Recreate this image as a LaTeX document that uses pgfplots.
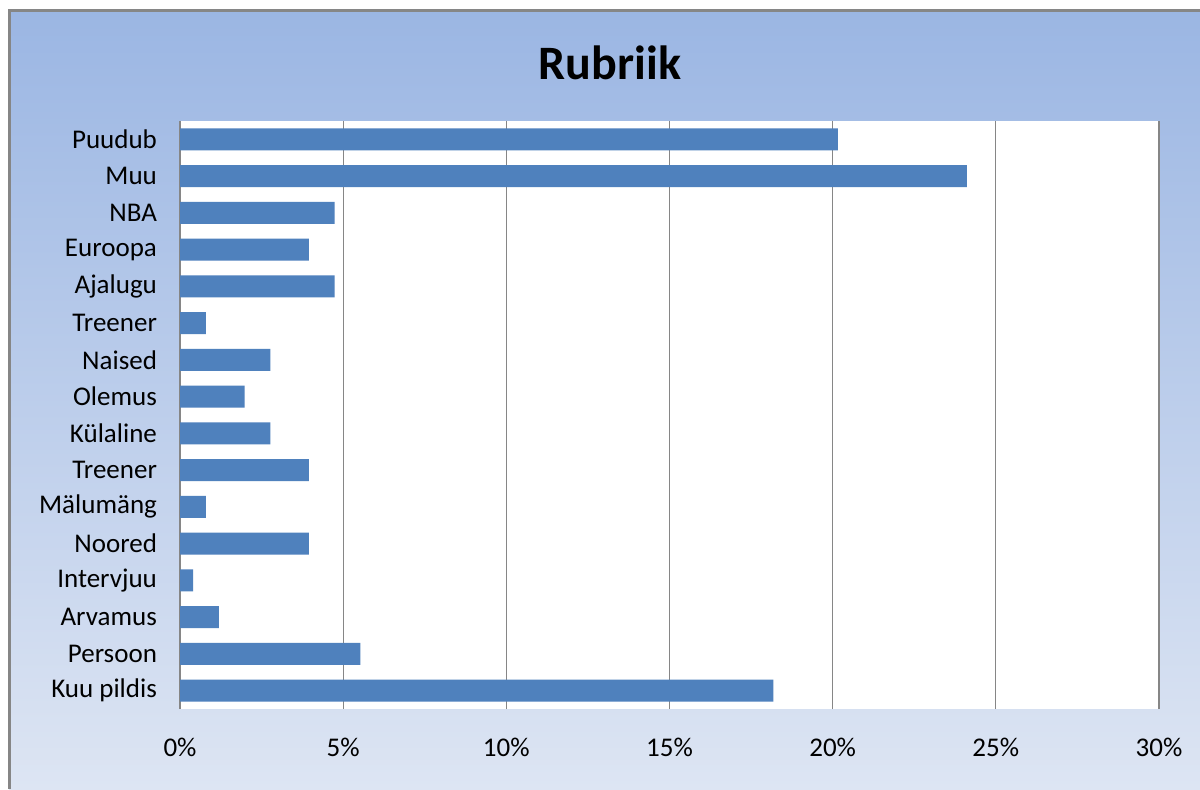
\documentclass[border=0pt]{standalone}
\usepackage{fontspec}
\setmainfont{Carlito}
\usepackage{pgfplots}
\pgfplotsset{compat=1.18}
\definecolor{barblue}{HTML}{4F81BD}
\definecolor{bgtop}{HTML}{9BB6E3}
\definecolor{bgbot}{HTML}{DDE5F3}
\definecolor{gridgray}{HTML}{868686}

\begin{document}
\begin{tikzpicture}
% whole chart area, 1 px = 0.5 pt
\path[use as bounding box] (0,0) rectangle (600pt,394.5pt);
\shade[top color=bgtop, bottom color=bgbot] (4.5pt,0) rectangle (600pt,389pt);
\draw[gridgray, line width=1.5pt] (4.5pt,0) -- (4.5pt,389pt) -- (600pt,389pt);
\node[font=\bfseries\fontsize{24}{28}\selectfont] at (305pt,363pt) {Rubriik};

\begin{axis}[
    at={(90pt,40pt)}, anchor=south west,
    scale only axis,
    width=489.5pt, height=294pt,
    xbar, bar width=0.6,
    xmin=0, xmax=30, ymin=0.5, ymax=16.5,
    xtick={0,5,...,30},
    xticklabel={\pgfmathparse{int(\tick)}\pgfmathresult\%},
    ytick={1,...,16},
    yticklabels={Kuu pildis,Persoon,Arvamus,Intervjuu,Noored,Mälumäng,Treener,Külaline,Olemus,Naised,Treener,Ajalugu,Euroopa,NBA,Muu,Puudub},
    major tick length=0pt,
    xmajorgrids,
    grid style={gridgray, line width=0.6pt},
    axis line style={draw=none},
    axis background/.style={fill=white},
    tick label style={font=\fontsize{13.5}{16}\selectfont, black},
    xticklabel style={yshift=-11pt},
    yticklabel style={xshift=-8pt},
]
\addplot[fill=barblue, draw=none] coordinates {
    (18.18,1) (5.53,2) (1.19,3) (0.40,4) (3.95,5) (0.79,6)
    (3.95,7) (2.77,8) (1.98,9) (2.77,10) (0.79,11) (4.74,12)
    (3.95,13) (4.74,14) (24.11,15) (20.16,16)
};
\end{axis}
\end{tikzpicture}
\end{document}
